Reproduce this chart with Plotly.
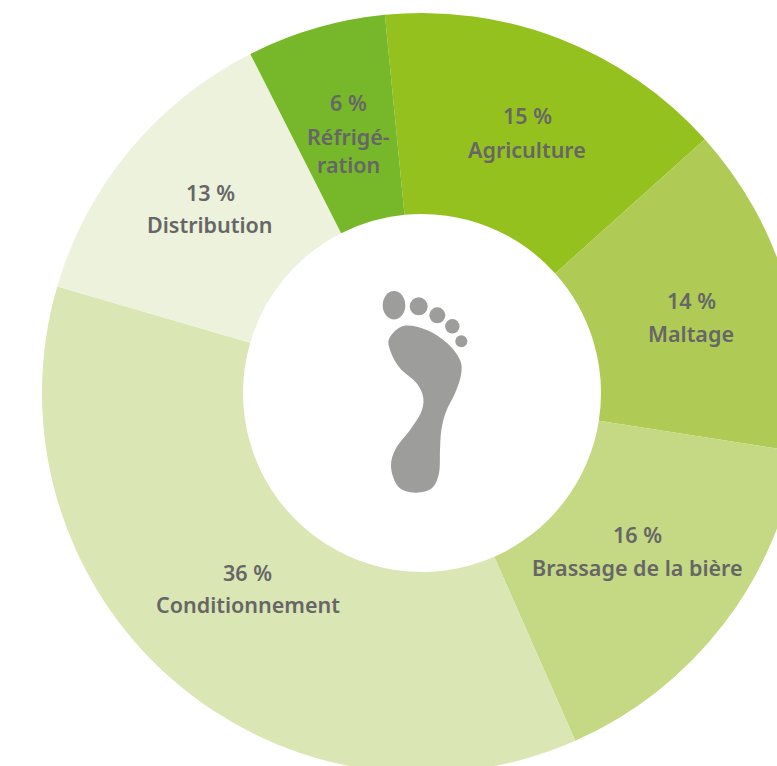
import plotly.graph_objects as go

# Data
categories = ["Agriculture", "Maltage", "Brassage de la bière", "Conditionnement", "Distribution", "Réfrigé-\nration"]
percent_labels = [15, 14, 16, 36, 13, 6]
slice_shares = [14.9, 14.1, 15.9, 36.1, 13.0, 5.9]
colors = ["#95C11F", "#AFCB56", "#C5D883", "#DAE6B3", "#ECF2DC", "#76B82A"]

# Layout (page pixels; the ring overflows the window on the right and bottom, as in the reference)
W, H = 844, 786
CX, CY, R_OUT, R_IN = 422, 393, 380, 179
START_ANGLE = -5.6
TEXT = "#666666"
FONT = "Noto Sans"
FS = 21.5
label_centres = [(527, 116, 33), (691, 300, 33), (637, 534, 33), (247.5, 572, 32), (210, 193, 32), (348, 103, 34)]

def px(x):
    return x / W

def py(y):
    return 1 - y / H

fig = go.Figure(go.Pie(
    labels=[c.replace("\n", "") for c in categories], values=slice_shares,
    sort=False, direction="clockwise", rotation=START_ANGLE, hole=R_IN / R_OUT,
    marker=dict(colors=colors, line=dict(color="rgba(255,255,255,0)", width=0)),
    textinfo="none", hoverinfo="label+percent", showlegend=False,
    domain=dict(x=[0, 1], y=[(H - CY - R_OUT) / H, (H - CY + R_OUT) / H]),
))

annotations = []
def add_text(text, x, y):
    annotations.append(dict(text=text, x=px(x), y=py(y), xref="paper", yref="paper", showarrow=False,
                            xanchor="center", yanchor="middle",
                            font=dict(family=FONT, size=FS, color=TEXT, weight=600)))

for cat, val, (x, y, step) in zip(categories, percent_labels, label_centres):
    add_text(f"{val} %", x, y)
    for i, line in enumerate(cat.split("\n")):
        extra = 28 * i
        add_text(line, x, y + step + extra)

# Footprint icon
GREY = "#9D9D9C"
toes = [(394, 305.3, 11.3, 14.2), (418.7, 306.3, 9, 9), (437.3, 315.3, 8, 8), (452.3, 326.3, 7.2, 7.2), (461.3, 341.3, 6, 6)]
shapes = []
for x, y, rx, ry in toes:
    shapes.append(dict(type="circle", xref="paper", yref="paper", x0=px(x - rx), x1=px(x + rx),
                       y0=py(y + ry), y1=py(y - ry), fillcolor=GREY, line_width=0))

sole = [(88, 175), (130, 138), (200, 150), (262, 190), (300, 240), (303, 285), (285, 340), (258, 395), (244, 450),
        (240, 510), (237, 580), (215, 625), (165, 638), (115, 620), (93, 560), (108, 505), (150, 450), (182, 400),
        (190, 355), (170, 310), (120, 265), (92, 215)]
pts = [(360 + a / 3, 280 + b / 3) for a, b in sole]
n = len(pts)
d = f"M {px(pts[0][0])} {py(pts[0][1])}"
for i in range(n):
    p0, p1, p2, p3 = pts[i - 1], pts[i], pts[(i + 1) % n], pts[(i + 2) % n]
    c1 = (p1[0] + (p2[0] - p0[0]) / 6, p1[1] + (p2[1] - p0[1]) / 6)
    c2 = (p2[0] - (p3[0] - p1[0]) / 6, p2[1] - (p3[1] - p1[1]) / 6)
    d += f" C {px(c1[0])} {py(c1[1])}, {px(c2[0])} {py(c2[1])}, {px(p2[0])} {py(p2[1])}"
d += " Z"
shapes.append(dict(type="path", xref="paper", yref="paper", path=d, fillcolor=GREY, line_width=0))

fig.update_layout(width=W, height=H, margin=dict(l=0, r=0, t=0, b=0), autosize=False,
                  paper_bgcolor="white", plot_bgcolor="white", annotations=annotations, shapes=shapes)

fig.write_html("out.html", post_script="document.body.style.margin='0';document.documentElement.style.overflow='hidden';document.body.style.overflow='hidden';")
